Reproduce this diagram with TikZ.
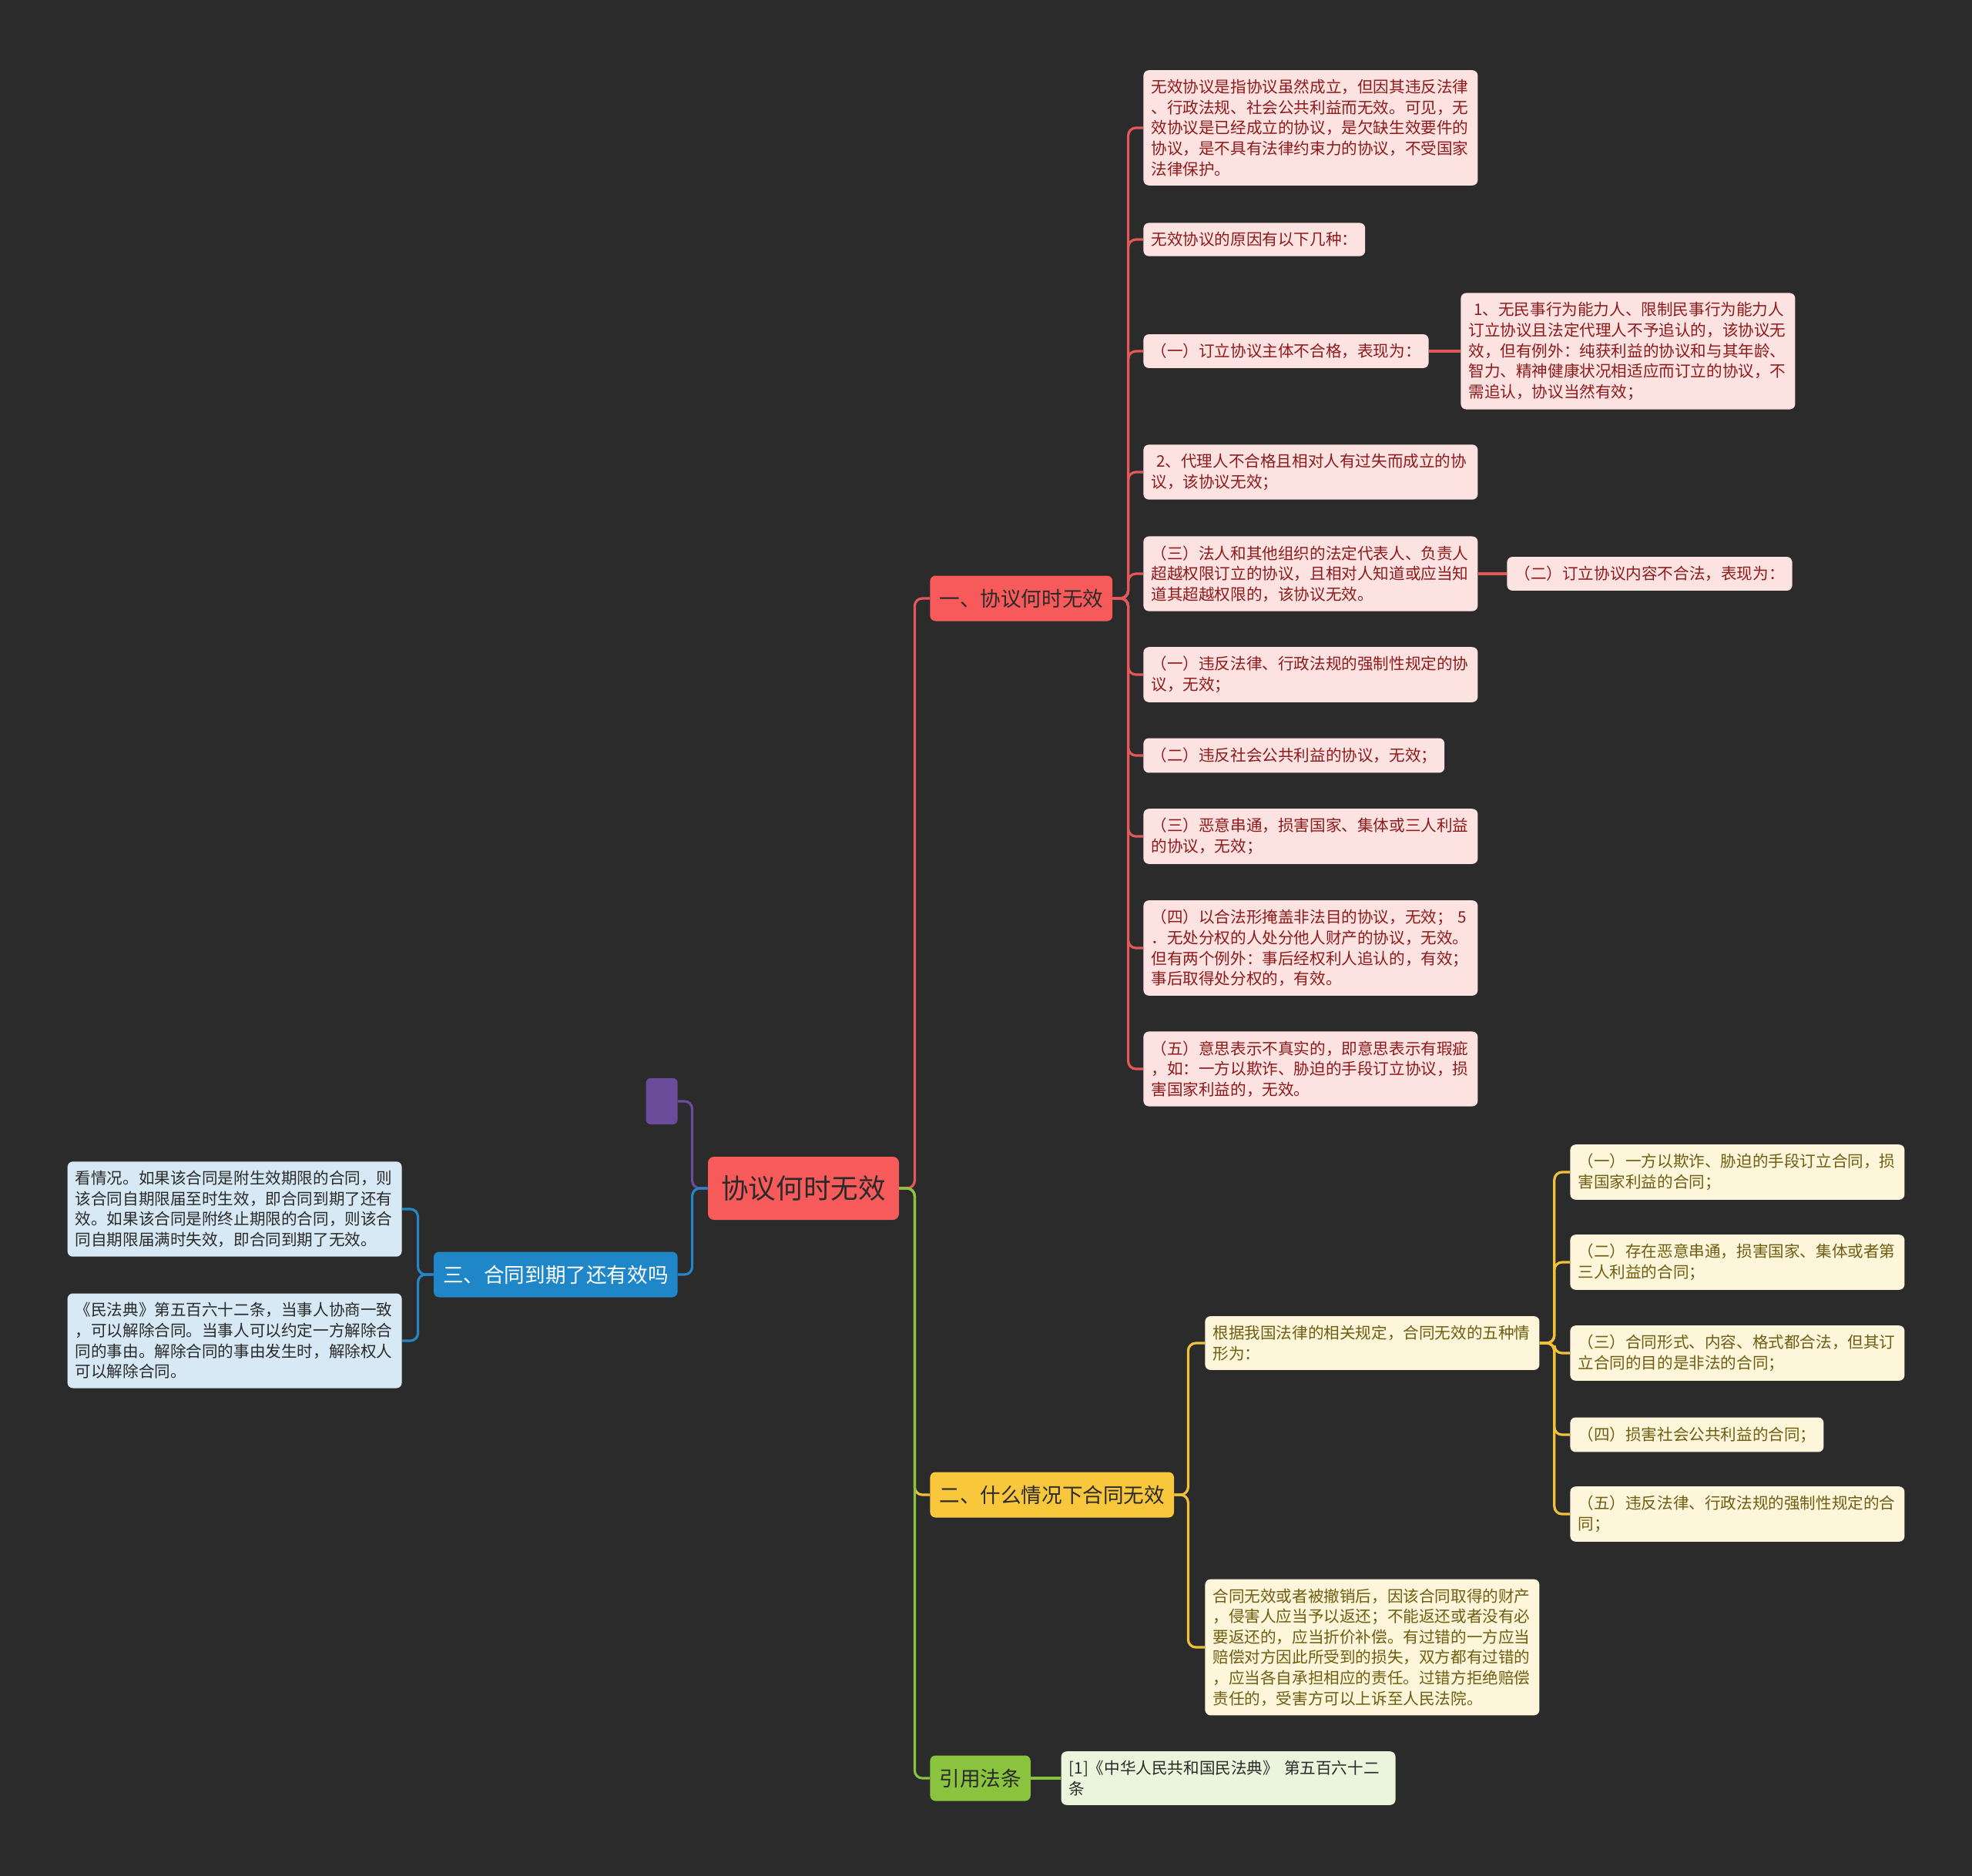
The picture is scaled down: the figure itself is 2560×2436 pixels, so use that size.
\documentclass[tikz,border=0pt]{standalone}
\usepackage{fontspec}
\setmainfont{Noto Sans CJK SC}
\usepackage{xcolor}
\definecolor{bgc}{HTML}{2B2B2B}
\definecolor{redc}{HTML}{F65A5A}
\definecolor{redl}{HTML}{E4585A}
\definecolor{redleaf}{HTML}{FDE2E2}
\definecolor{redtext}{HTML}{8E1B1B}
\definecolor{yelc}{HTML}{F8C73C}
\definecolor{yell}{HTML}{F2C13A}
\definecolor{yelleaf}{HTML}{FEF6DB}
\definecolor{yeltext}{HTML}{6F5E12}
\definecolor{grnc}{HTML}{8AC43E}
\definecolor{grnleaf}{HTML}{EAF5DC}
\definecolor{bluc}{HTML}{1F86C8}
\definecolor{blul}{HTML}{2486C6}
\definecolor{bluleaf}{HTML}{D6E9F5}
\definecolor{purc}{HTML}{6B4C9A}
\definecolor{darktext}{HTML}{2A2A2A}
\usetikzlibrary{positioning}

\begin{document}
\begin{tikzpicture}[
  x=0.5pt, y=-0.5pt,
  font=\fontsize{10.3}{13.3}\selectfont,
  leaf/.style={rounded corners=3.5pt, inner xsep=5pt, inner ysep=6pt, align=left},
  wide/.style={leaf, text width=207pt},
  redbox/.style={fill=redleaf, text=redtext},
  yelbox/.style={fill=yelleaf, text=yeltext},
  blubox/.style={fill=bluleaf, text=darktext},
  grnbox/.style={fill=grnleaf, text=darktext},
  branch/.style={rounded corners=3.5pt, inner xsep=6pt, minimum height=29.5pt,
    text=darktext, font=\fontsize{13.3}{16}\selectfont},
  rootbox/.style={fill=redc, text=darktext, rounded corners=4pt,
    minimum width=124pt, minimum height=41pt, font=\fontsize{17.8}{20}\selectfont},
  link/.style={line width=1.6pt, rounded corners=5pt}
]
\fill[bgc] (0,0) rectangle (2560,2436);

% centre and main branches
\node[rootbox] (root) at (1043,1543) {协议何时无效};
\node[branch, fill=redc, anchor=west] (br1) at (1207,777) {一、协议何时无效};
\node[branch, fill=yelc, anchor=west] (br2) at (1207,1941) {二、什么情况下合同无效};
\node[branch, fill=grnc, anchor=west] (br3) at (1207,2309) {引用法条};
\node[branch, fill=bluc, text=white, anchor=east] (br4) at (880,1655) {三、合同到期了还有效吗};
\node[fill=purc, rounded corners=3pt, minimum width=20.5pt, minimum height=30pt,
  anchor=east] (tag) at (880,1430) {};

% branch one
\node[wide, redbox, anchor=west] (a1) at (1484,166)
  {无效协议是指协议虽然成立，但因其违反法律\\、行政法规、社会公共利益而无效。可见，无\\效协议是已经成立的协议，是欠缺生效要件的\\协议，是不具有法律约束力的协议，不受国家\\法律保护。};
\node[leaf, redbox, anchor=west] (a2) at (1484,311) {无效协议的原因有以下几种：};
\node[leaf, redbox, anchor=west] (a3) at (1484,456) {（一）订立协议主体不合格，表现为：};
\node[wide, redbox, anchor=west] (a3c) at (1896,456)
  {\ 1、无民事行为能力人、限制民事行为能力人\\订立协议且法定代理人不予追认的，该协议无\\效，但有例外：纯获利益的协议和与其年龄、\\智力、精神健康状况相适应而订立的协议，不\\需追认，协议当然有效；};
\node[wide, redbox, anchor=west] (a4) at (1484,613)
  {\ 2、代理人不合格且相对人有过失而成立的协\\议，该协议无效；};
\node[wide, redbox, anchor=west] (a5) at (1484,745)
  {（三）法人和其他组织的法定代表人、负责人\\超越权限订立的协议，且相对人知道或应当知\\道其超越权限的，该协议无效。};
\node[leaf, redbox, anchor=west] (a5c) at (1956,745) {（二）订立协议内容不合法，表现为：};
\node[wide, redbox, anchor=west] (a6) at (1484,876)
  {（一）违反法律、行政法规的强制性规定的协\\议，无效；};
\node[leaf, redbox, anchor=west] (a7) at (1484,981) {（二）违反社会公共利益的协议，无效；};
\node[wide, redbox, anchor=west] (a8) at (1484,1086)
  {（三）恶意串通，损害国家、集体或三人利益\\的协议，无效；};
\node[wide, redbox, anchor=west] (a9) at (1484,1231)
  {（四）以合法形掩盖非法目的协议，无效； 5\\．无处分权的人处分他人财产的协议，无效。\\但有两个例外：事后经权利人追认的，有效；\\事后取得处分权的，有效。};
\node[wide, redbox, anchor=west] (a10) at (1484,1388)
  {（五）意思表示不真实的，即意思表示有瑕疵\\，如：一方以欺诈、胁迫的手段订立协议，损\\害国家利益的，无效。};

% branch two
\node[wide, yelbox, anchor=west] (b1) at (1564,1744)
  {根据我国法律的相关规定，合同无效的五种情\\形为：};
\node[wide, yelbox, anchor=west] (b2) at (1564,2139)
  {合同无效或者被撤销后，因该合同取得的财产\\，侵害人应当予以返还；不能返还或者没有必\\要返还的，应当折价补偿。有过错的一方应当\\赔偿对方因此所受到的损失，双方都有过错的\\，应当各自承担相应的责任。过错方拒绝赔偿\\责任的，受害方可以上诉至人民法院。};
\node[wide, yelbox, anchor=west] (c1) at (2038,1522)
  {（一）一方以欺诈、胁迫的手段订立合同，损\\害国家利益的合同；};
\node[wide, yelbox, anchor=west] (c2) at (2038,1639)
  {（二）存在恶意串通，损害国家、集体或者第\\三人利益的合同；};
\node[wide, yelbox, anchor=west] (c3) at (2038,1757)
  {（三）合同形式、内容、格式都合法，但其订\\立合同的目的是非法的合同；};
\node[leaf, yelbox, anchor=west] (c4) at (2038,1863) {（四）损害社会公共利益的合同；};
\node[wide, yelbox, anchor=west] (c5) at (2038,1966)
  {（五）违反法律、行政法规的强制性规定的合\\同；};

% branch three
\node[wide, grnbox, right=19.5pt of br3] (e1)
  {[1]《中华人民共和国民法典》 第五百六十二\\条};

% left branch
\node[wide, blubox, anchor=east] (d1) at (522,1570)
  {看情况。如果该合同是附生效期限的合同，则\\该合同自期限届至时生效，即合同到期了还有\\效。如果该合同是附终止期限的合同，则该合\\同自期限届满时失效，即合同到期了无效。};
\node[wide, blubox, anchor=east] (d2) at (522,1741)
  {《民法典》第五百六十二条，当事人协商一致\\，可以解除合同。当事人可以约定一方解除合\\同的事由。解除合同的事由发生时，解除权人\\可以解除合同。};

% connectors
\draw[link, redl] (root.east) -- ++(10pt,0) |- (br1.west);
\draw[link, yell] (root.east) -- ++(10pt,0) |- (br2.west);
\draw[link, grnc] (root.east) -- ++(10pt,0) |- (br3.west);
\draw[link, purc] (root.west) -- ++(-10pt,0) |- (tag.east);
\draw[link, blul] (root.west) -- ++(-10pt,0) |- (br4.east);
\foreach \n in {a1,a2,a3,a4,a5,a6,a7,a8,a9,a10}
  \draw[link, redl] (br1.east) -- ++(10pt,0) |- (\n.west);
\draw[link, redl] (a3.east) -- (a3c.west);
\draw[link, redl] (a5.east) -- (a5c.west);
\foreach \n in {b1,b2}
  \draw[link, yell] (br2.east) -- ++(9pt,0) |- (\n.west);
\foreach \n in {c1,c2,c3,c4,c5}
  \draw[link, yell] (b1.east) -- ++(9.5pt,0) |- (\n.west);
\draw[link, grnc] (br3.east) -- (e1.west);
\foreach \n in {d1,d2}
  \draw[link, blul] (br4.west) -- ++(-10pt,0) |- (\n.east);
\end{tikzpicture}
\end{document}
